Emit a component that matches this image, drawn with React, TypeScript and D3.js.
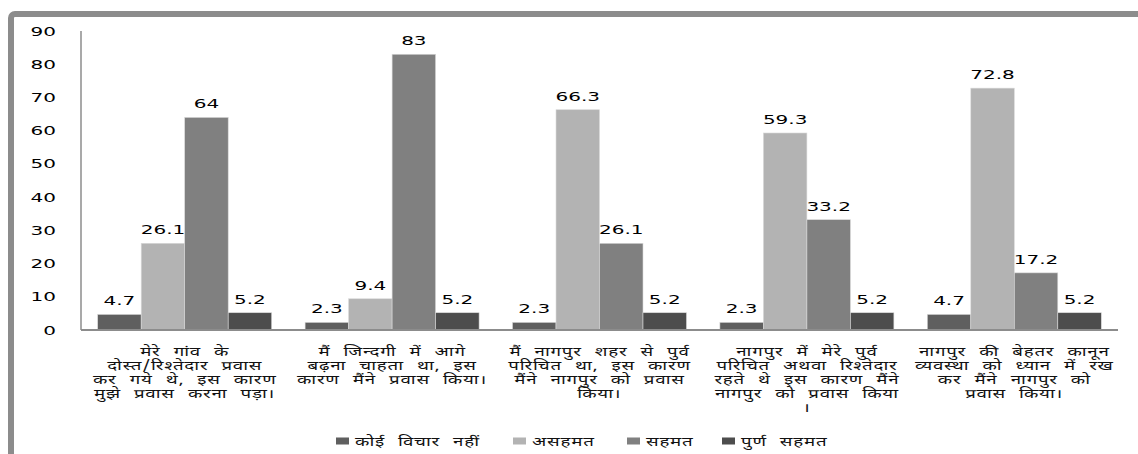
import * as d3 from 'd3'
import { type ReactElement } from 'react'

// categories (each entry is the wrapped lines of one x label)
const categoryLines: string[][] = [
  ['मेरे गांव के', 'दोस्त/रिश्तेदार प्रवास', 'कर गये थे, इस कारण', 'मुझे प्रवास करना पड़ा।'],
  ['मैं जिन्दगी में आगे', 'बढ़ना चाहता था, इस', 'कारण मैंने प्रवास किया।'],
  ['मैं नागपुर शहर से पुर्व', 'परिचित था, इस कारण', 'मैंने नागपुर को प्रवास', 'किया।'],
  ['नागपुर में मेरे पुर्व', 'परिचित अथवा रिश्तेदार', 'रहते थे इस कारण मैंने', 'नागपुर को प्रवास किया', '।'],
  ['नागपुर की बेहतर कानून', 'व्यवस्था को ध्यान में रख', 'कर मैंने नागपुर को', 'प्रवास किया।'],
]

const seriesNames = ['कोई विचार नहीं', 'असहमत', 'सहमत', 'पुर्ण सहमत']
const noOpinion = [4.7, 2.3, 2.3, 2.3, 4.7]
const disagree = [26.1, 9.4, 66.3, 59.3, 72.8]
const agree = [64, 83, 26.1, 33.2, 17.2]
const fullyAgree = [5.2, 5.2, 5.2, 5.2, 5.2]
const yTicks = [0, 10, 20, 30, 40, 50, 60, 70, 80, 90]

const seriesValues = [noOpinion, disagree, agree, fullyAgree]
const seriesColors = ['#5f5f5f', '#b3b3b3', '#808080', '#4d4d4d']

const numFont = '"DejaVu Sans", Verdana, sans-serif'
const hindiFont = '"Noto Sans Devanagari", "Lohit Devanagari", "Noto Serif Devanagari", FreeSerif, "Noto Sans", sans-serif'
const stretch = 1.6
const hindiStretch = 1.5

export default function App(): ReactElement {
  const plot = { left: 81, right: 1118, top: 31, bottom: 330 }
  const catIndex = categoryLines.map((_, i) => String(i))

  const x0 = d3.scaleBand<string>().domain(catIndex).range([plot.left, plot.right]).padding(0)
  const x1 = d3
    .scaleBand<string>()
    .domain(seriesNames)
    .range([0, x0.bandwidth()])
    .paddingInner(0)
    .paddingOuter(0.384)
  const y = d3.scaleLinear().domain([0, 90]).range([plot.bottom, plot.top])

  const legendX = [336, 513, 627, 722]

  return (
    <svg
      width={1138}
      height={454}
      style={{ position: 'absolute', left: 0, top: 0, background: '#fff' }}
    >
      <rect x={11} y={14} width={1300} height={600} rx={4} fill="#fff" stroke="#8c8c8c" strokeWidth={6} />

      {yTicks.map((t) => (
        <text
          key={t}
          transform={`translate(56,${y(t) + 4.5}) scale(${stretch},1)`}
          textAnchor="end"
          fontFamily={numFont}
          fontSize={12.5}
          fill="#000"
        >
          {t}
        </text>
      ))}

      {catIndex.map((c, ci) => (
        <g key={c} transform={`translate(${x0(c)},0)`}>
          {seriesNames.map((s, si) => {
            const v = seriesValues[si][ci]
            const bx = x1(s) ?? 0
            const bw = x1.bandwidth()
            return (
              <g key={s}>
                <rect
                  x={bx}
                  y={y(v)}
                  width={bw}
                  height={y(0) - y(v)}
                  fill={seriesColors[si]}
                  stroke="#d9d9d9"
                  strokeWidth={0.6}
                />
                <text
                  transform={`translate(${bx + bw / 2},${y(v) - 9}) scale(${stretch},1)`}
                  textAnchor="middle"
                  fontFamily={numFont}
                  fontSize={12.5}
                  fill="#000"
                >
                  {v}
                </text>
              </g>
            )
          })}
        </g>
      ))}

      <line x1={plot.left} x2={plot.left} y1={plot.top} y2={plot.bottom} stroke="#8c8c8c" strokeWidth={1.5} />
      <line x1={plot.left} x2={plot.right} y1={plot.bottom} y2={plot.bottom} stroke="#8c8c8c" strokeWidth={2} />

      {categoryLines.map((lines, ci) => {
        const cx = (x0(String(ci)) ?? 0) + x0.bandwidth() / 2
        return (
          <g key={ci}>
            {lines.map((line, li) => (
              <text
                key={li}
                transform={`translate(${cx},${356 + li * 14}) scale(${hindiStretch},1)`}
                textAnchor="middle"
                fontFamily={hindiFont}
                fontSize={12.5}
                letterSpacing={0.5}
                wordSpacing={5}
                fill="#111"
              >
                {line}
              </text>
            ))}
          </g>
        )
      })}

      {seriesNames.map((s, si) => (
        <g key={s} transform={`translate(${legendX[si]},0)`}>
          <rect x={0} y={437.5} width={13} height={7} fill={seriesColors[si]} />
          <text
            transform={`translate(19,446) scale(${hindiStretch},1)`}
            fontFamily={hindiFont}
            fontSize={12.5}
            letterSpacing={0.5}
            wordSpacing={5}
            fill="#111"
          >
            {s}
          </text>
        </g>
      ))}
    </svg>
  )
}
